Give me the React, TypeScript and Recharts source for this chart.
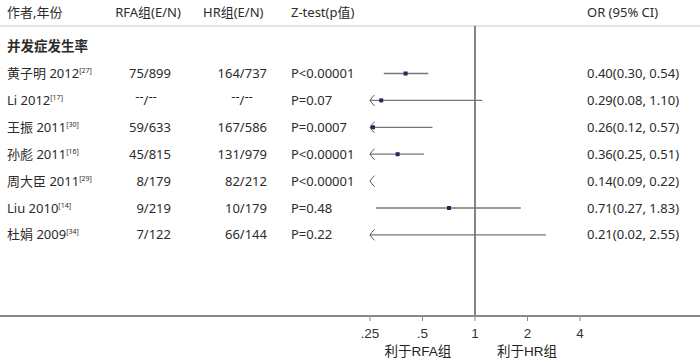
import {
  ComposedChart,
  XAxis,
  YAxis,
  Scatter,
  ReferenceLine,
  ReferenceDot,
} from 'recharts';

// study rows
const authors = ['黄子明 2012', 'Li 2012', '王振 2011', '孙彪 2011', '周大臣 2011', 'Liu 2010', '杜娟 2009'];
const refs = ['27', '17', '30', '16', '29', '14', '34'];
const rfaEvents = ['75/899', '--/--', '59/633', '45/815', '8/179', '9/219', '7/122'];
const hrEvents = ['164/737', '--/--', '167/586', '131/979', '82/212', '10/179', '66/144'];
const pValues = ['P<0.00001', 'P=0.07', 'P=0.0007', 'P<0.00001', 'P<0.00001', 'P=0.48', 'P=0.22'];
const oddsRatio = [0.4, 0.29, 0.26, 0.36, 0.14, 0.71, 0.21];
const ciLow = [0.3, 0.08, 0.12, 0.25, 0.09, 0.27, 0.02];
const ciHigh = [0.54, 1.1, 0.57, 0.51, 0.22, 1.83, 2.55];

const axisTicks = [0.25, 0.5, 1, 2, 4];
const headers = ['作者,年份', 'RFA组(E/N)', 'HR组(E/N)', 'Z-test(p值)', 'OR (95% CI)'];
const sectionTitle = '并发症发生率';
const favourLabels = ['利于RFA组', '利于HR组'];

const W = 700;
const H = 363;
const PLOT_H = 316;
const PX_PER_DOUBLING = 52.5;
const X_ONE = 475;
const X_MIN = Math.pow(2, -X_ONE / PX_PER_DOUBLING);
const X_MAX = Math.pow(2, (W - X_ONE) / PX_PER_DOUBLING);
const CLIP_LO = 0.25;

const ROW1_Y = 73.5;
const ROW_STEP = 26.9;
const Y_MIN = 1 - ROW1_Y / ROW_STEP;
const Y_MAX = Y_MIN + PLOT_H / ROW_STEP;
const rowAt = (px: number) => 1 + (px - ROW1_Y) / ROW_STEP;
const HEADER_ROW = rowAt(12);
const RULE_ROW = rowAt(26);

const FONT = "'Noto Sans', 'Noto Sans CJK SC', sans-serif";
const NARROW = "'Liberation Sans Narrow', 'Liberation Sans', 'Noto Sans CJK SC', sans-serif";
const INK = '#2b2b2b';
const LINE = '#777';

const rows = authors.map((a, i) => ({
  row: i + 1,
  or: oddsRatio[i],
  lo: ciLow[i],
  hi: ciHigh[i],
}));
const visiblePoints = rows.filter((r) => r.or >= CLIP_LO);

// one anchor per text line; x=1 just keeps it inside the domain
const textLines = [
  { or: 1, row: HEADER_ROW, kind: 'header', i: -1 },
  { or: 1, row: 0, kind: 'section', i: -1 },
  ...rows.map((r, i) => ({ or: 1, row: r.row, kind: 'study', i })),
];

const fmtTick = (v: number) => (v < 1 ? String(v).replace(/^0/, '') : String(v));

// "--/--" is typeset with the dashes raised in the source
const EventCell = ({ x, y, text }: any) => {
  const base = y + 4.5;
  if (text === '--/--') {
    return (
      <text x={x - 25} y={base} textAnchor="middle" fontFamily={FONT} fontSize={13} fill={INK}>
        <tspan dy={-4}>--</tspan>
        <tspan dy={4}>/</tspan>
        <tspan dy={-4}>--</tspan>
      </text>
    );
  }
  return (
    <text x={x} y={base} textAnchor="end" fontFamily={FONT} fontSize={13} fill={INK}>
      {text}
    </text>
  );
};

const TextRow = (props: any) => {
  const { cy, payload } = props;
  const y = cy;
  const common = { fontFamily: FONT, fontSize: 13, fill: INK, dy: '0.35em' } as const;

  if (payload.kind === 'header') {
    return (
      <g>
        <text x={7} y={y} {...common}>{headers[0]}</text>
        <text x={148} y={y} textAnchor="middle" {...common}>{headers[1]}</text>
        <text x={203} y={y} {...common}>{headers[2]}</text>
        <text x={291} y={y} {...common}>{headers[3]}</text>
        <text x={587} y={y} {...common}>{headers[4]}</text>
      </g>
    );
  }
  if (payload.kind === 'section') {
    return (
      <text x={7} y={y} {...common} fontWeight={700} fontSize={13.5}>
        {sectionTitle}
      </text>
    );
  }
  const i = payload.i;
  const r = rows[i];
  return (
    <g>
      <text x={7} y={y} {...common}>
        {authors[i]}
        <tspan fontSize={7} dy={-5}>[{refs[i]}]</tspan>
      </text>
      <EventCell x={171} y={y} text={rfaEvents[i]} />
      <EventCell x={267} y={y} text={hrEvents[i]} />
      <text x={291} y={y} {...common}>{pValues[i]}</text>
      <text x={587} y={y} {...common}>
        {`${r.or.toFixed(2)}(${r.lo.toFixed(2)}, ${r.hi.toFixed(2)})`}
      </text>
    </g>
  );
};

const AxisTick = (props: any) => {
  const { x, y, payload } = props;
  return (
    <text x={x} y={y + 5} dy="0.71em" textAnchor="middle" fontFamily={NARROW} fontSize={13.5} fill="#333">
      {fmtTick(payload.value)}
    </text>
  );
};

const FavourLabels = () => (
  <g fontFamily={NARROW} fontSize={13.5} fill="#222">
    <text x={418} y={356} textAnchor="middle">{favourLabels[0]}</text>
    <text x={527} y={356} textAnchor="middle">{favourLabels[1]}</text>
  </g>
);

const Chevron = (props: any) => {
  const { cx, cy } = props;
  return (
    <path
      d={`M${cx + 4.5},${cy - 5.5} Q${cx + 1},${cy - 2} ${cx},${cy} Q${cx + 1},${cy + 2} ${cx + 4.5},${cy + 5.5}`}
      stroke="#555"
      strokeWidth={1}
      fill="none"
    />
  );
};

const PointMark = (props: any) => {
  const { cx, cy } = props;
  return <rect x={cx - 2} y={cy - 2} width={4} height={4} fill="#2e2262" />;
};

export default function App() {
  return (
    <div style={{ position: 'absolute', left: 0, top: 0, width: W, height: H, background: '#fff' }}>
      <ComposedChart width={W} height={H} margin={{ top: 0, right: 0, bottom: 0, left: 0 }}>
        <XAxis
          dataKey="or"
          type="number"
          scale="log"
          domain={[X_MIN, X_MAX]}
          allowDataOverflow
          ticks={axisTicks}
          height={H - PLOT_H}
          axisLine={{ stroke: '#888', strokeWidth: 2 }}
          tickLine={{ stroke: '#888', strokeWidth: 1 }}
          tickSize={5}
          tick={<AxisTick />}
          label={<FavourLabels />}
        />
        <YAxis dataKey="row" type="number" domain={[Y_MIN, Y_MAX]} allowDataOverflow reversed hide />
        <ReferenceLine y={RULE_ROW} stroke="#ddd" strokeWidth={1.5} />
        <ReferenceLine
          segment={[
            { x: 1, y: RULE_ROW },
            { x: 1, y: Y_MAX },
          ]}
          stroke={LINE}
          strokeWidth={1.8}
        />
        {rows
          .filter((r) => r.hi > CLIP_LO)
          .map((r) => (
            <ReferenceLine
              key={`ci-${r.row}`}
              segment={[
                { x: Math.max(r.lo, CLIP_LO), y: r.row },
                { x: r.hi, y: r.row },
              ]}
              stroke={LINE}
              strokeWidth={1.3}
            />
          ))}
        {rows
          .filter((r) => r.lo <= CLIP_LO)
          .map((r) => (
            <ReferenceDot key={`arrow-${r.row}`} x={CLIP_LO} y={r.row} shape={<Chevron />} />
          ))}
        <Scatter data={visiblePoints} dataKey="row" shape={<PointMark />} isAnimationActive={false} />
        <Scatter data={textLines} dataKey="row" shape={<TextRow />} isAnimationActive={false} />
      </ComposedChart>
    </div>
  );
}
